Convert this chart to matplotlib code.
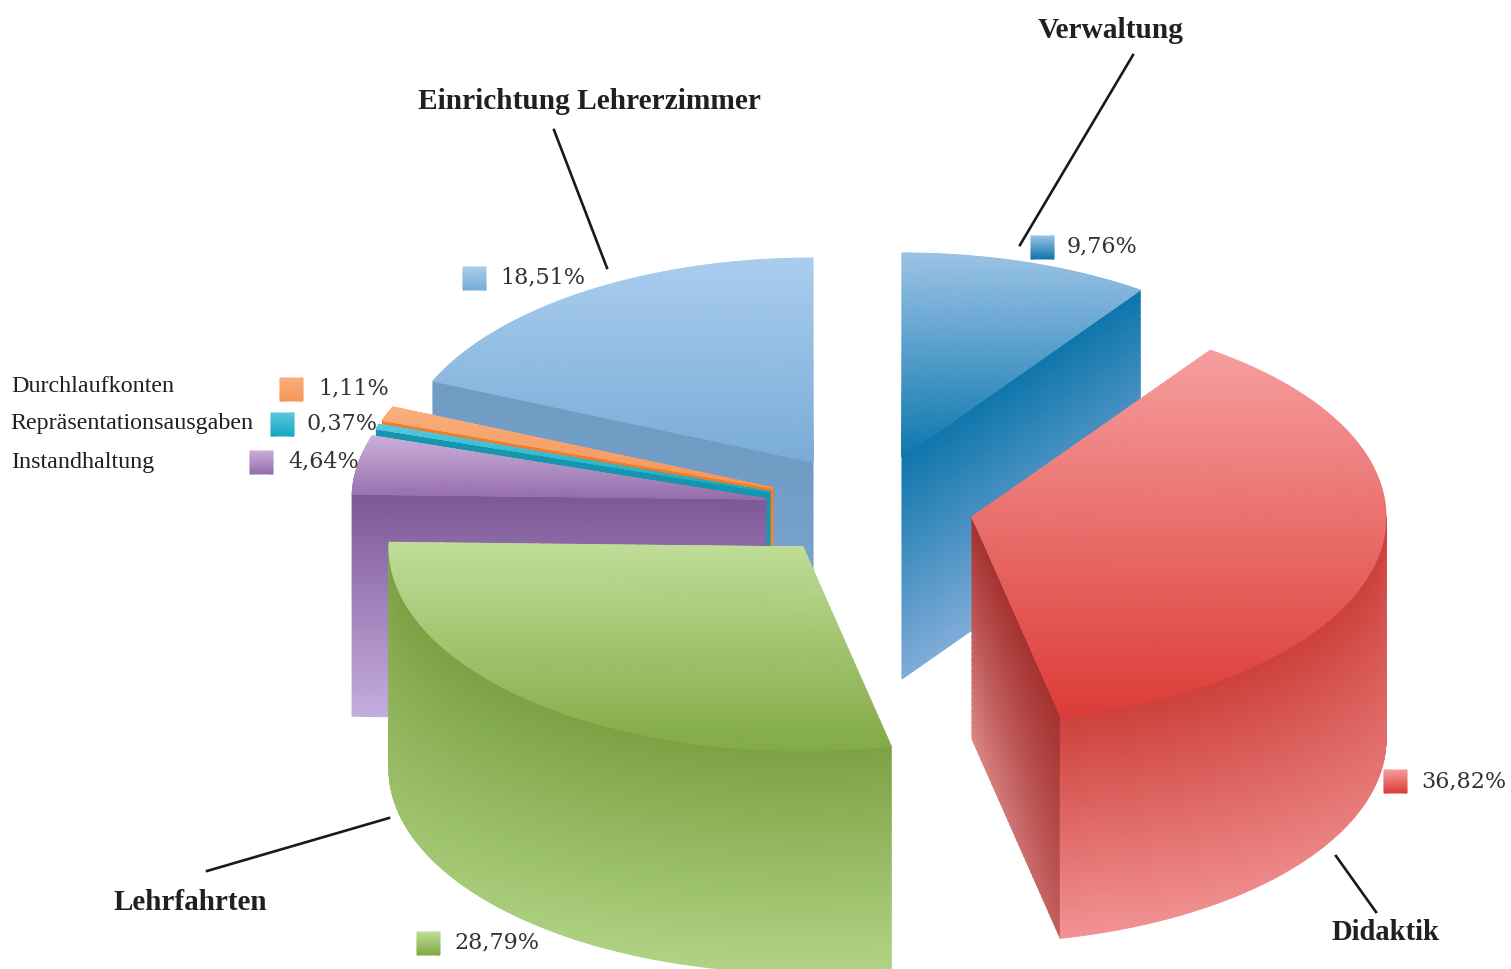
import numpy as np
import matplotlib
matplotlib.use("Agg")
import matplotlib.pyplot as plt
from matplotlib.colors import LinearSegmentedColormap

# data
kategorien = ["Verwaltung", "Didaktik", "Lehrfahrten", "Instandhaltung",
              "Repräsentationsausgaben", "Durchlaufkonten", "Einrichtung Lehrerzimmer"]
anteile = [9.76, 36.82, 28.79, 4.64, 0.37, 1.11, 18.51]

# geometry of the pulled apart slices, in image pixels
apex_x = [902, 972, 803, 766, 770, 773, 813]
apex_y = [457, 517, 547, 499, 492, 488, 462]
RX, RY, HOEHE = 414, 204, 222

rgb = lambda r, g, b: (r / 255, g / 255, b / 255)
kolor_gora = [
    [rgb(155, 195, 230), rgb(15, 120, 175)],
    [rgb(246, 158, 158), rgb(220, 60, 55)],
    [rgb(192, 222, 152), rgb(130, 170, 70)],
    [rgb(203, 175, 218), rgb(150, 110, 172)],
    [rgb(90, 200, 220), rgb(20, 170, 195)],
    [rgb(250, 175, 125), rgb(245, 150, 90)],
    [rgb(170, 205, 238), rgb(122, 172, 216)],
]
kolor_bok = [
    [rgb(15, 118, 172), rgb(128, 172, 216)],
    [rgb(205, 65, 60), rgb(243, 148, 148)],
    [rgb(124, 162, 68), rgb(176, 212, 132)],
    [rgb(125, 88, 150), rgb(197, 172, 222)],
    [rgb(20, 150, 175), rgb(20, 170, 195)],
    [rgb(240, 125, 40), rgb(245, 150, 80)],
    [rgb(112, 155, 195), rgb(125, 170, 215)],
]
kolor_scianka = list(kolor_bok)
kolor_scianka[1] = [rgb(165, 50, 48), rgb(218, 135, 135)]
zanik = [0, 0.5, 0, 0, 0, 0, 0]

# back slices first, the front ones cover them
kolejnosc = [6, 5, 4, 3, 0, 1, 2]

# text and legend marks
etykiety_x = [1067, 1421, 454, 288, 307, 318, 500]
etykiety_y = [246, 781, 942, 461, 423, 388, 277]
znacznik_x = [1031, 1384, 417, 250, 271, 280, 463]
znacznik_y = [236, 770, 932, 451, 413, 378, 267]
ZNACZNIK = 23

opisy = ["Durchlaufkonten", "Repräsentationsausgaben", "Instandhaltung"]
opisy_x = [11, 10, 11]
opisy_y = [386, 423, 462]

glowne = ["Verwaltung", "Einrichtung Lehrerzimmer", "Lehrfahrten", "Didaktik"]
glowne_x = [1038, 418, 114, 1332]
glowne_y = [30, 101, 902, 933]
glowne_rozmiar = [21.2, 21.15, 21.0, 20.6]

linie_x = [(1133, 1020), (554, 607), (207, 389), (1336, 1376)]
linie_y = [(55, 245), (130, 268), (871, 818), (856, 912)]


def mapa(kolory):
    return LinearSegmentedColormap.from_list("k", kolory)


def rysuj_siatke(ax, X, Y, C, kolory):
    ax.pcolormesh(X, Y, C, cmap=mapa(kolory), vmin=0, vmax=1,
                  shading="gouraud", rasterized=True)


def rysuj_wycinek(ax, i, a, b):
    cx, cy = apex_x[i], apex_y[i]
    t = np.linspace(0, 1, 40)

    # straight side walls, only those that face the viewer
    for kat, widoczna in ((a, np.sin(a) < -1e-6), (b, np.sin(b) > 1e-6)):
        if widoczna:
            u = np.linspace(0, 1, 40)
            U, T = np.meshgrid(u, t)
            X = cx + U * RX * np.sin(kat)
            Y = cy - U * RY * np.cos(kat) + T * HOEHE
            rysuj_siatke(ax, X, Y, T * (1 - zanik[i] * U), kolor_scianka[i])

    # curved outer wall, the sides stay darker than the front
    od, do = max(a, np.pi / 2), min(b, 3 * np.pi / 2)
    if do > od:
        Th, T = np.meshgrid(np.linspace(od, do, 200), t)
        X = cx + RX * np.sin(Th)
        Y = cy - RY * np.cos(Th) + T * HOEHE
        przod = np.clip(-np.cos(Th), 0, 1)
        rysuj_siatke(ax, X, Y, T * (0.55 + 0.45 * przod), kolor_bok[i])

    # top surface, gradient runs down the screen
    Th, R = np.meshgrid(np.linspace(a, b, 200), np.linspace(0, 1, 40))
    X = cx + R * RX * np.sin(Th)
    Y = cy - R * RY * np.cos(Th)
    C = (Y - Y.min()) / (Y.max() - Y.min())
    rysuj_siatke(ax, X, Y, C, kolor_gora[i])


fig = plt.figure(figsize=(15.11, 9.69), dpi=100)
ax = fig.add_axes([0, 0, 1, 1])
ax.set_xlim(0, 1511)
ax.set_ylim(969, 0)
ax.axis("off")

katy = np.radians(np.concatenate(([0], np.cumsum(anteile))) * 3.6)
for i in kolejnosc:
    rysuj_wycinek(ax, i, katy[i], katy[i + 1])

for i in range(len(kategorien)):
    x0, y0 = znacznik_x[i], znacznik_y[i]
    X, Y = np.meshgrid([x0, x0 + ZNACZNIK], np.linspace(y0, y0 + ZNACZNIK, 12))
    C = (Y - y0) / ZNACZNIK
    rysuj_siatke(ax, X, Y, C, kolor_gora[i])
    tekst = f"{anteile[i]:.2f}%".replace(".", ",")
    ax.text(etykiety_x[i], etykiety_y[i], tekst, family="DejaVu Serif", fontsize=16,
            color="#333333", va="center", ha="left", zorder=3)

for lx, ly in zip(linie_x, linie_y):
    ax.plot(lx, ly, color="#1a1a1a", lw=1.9, zorder=3)

for s, x, y in zip(opisy, opisy_x, opisy_y):
    ax.text(x, y, s, family="Liberation Serif", fontsize=17.3, color="#231f20",
            va="center", ha="left", zorder=3)

for s, x, y, r in zip(glowne, glowne_x, glowne_y, glowne_rozmiar):
    ax.text(x, y, s, family="Liberation Serif", fontweight="bold", fontsize=r,
            color="#231f20", va="center", ha="left", zorder=3)

fig.savefig("out.png", dpi=100)
